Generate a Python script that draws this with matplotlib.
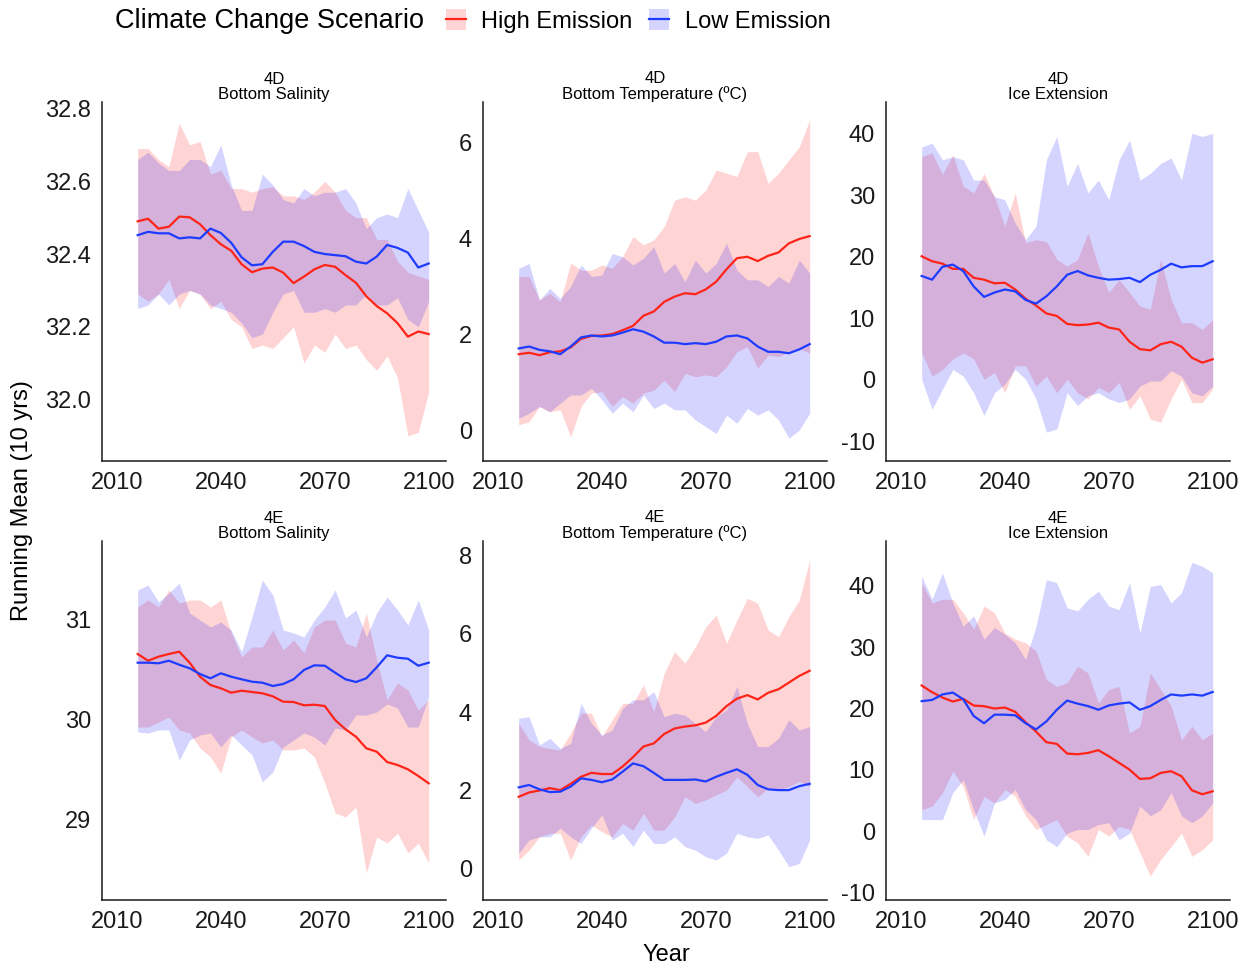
import numpy as np
import matplotlib
matplotlib.use("Agg")
import matplotlib.pyplot as plt
from matplotlib.patches import Patch
from matplotlib.lines import Line2D
from matplotlib.ticker import FormatStrFormatter

plt.rcParams['font.family'] = ['Liberation Sans', 'DejaVu Sans']
plt.rcParams['axes.unicode_minus'] = False

# years of the running mean (every 3rd year)
years = list(range(2016, 2101, 3))

# 4D - Bottom Salinity
sal4d_high = [32.49, 32.497, 32.47, 32.475, 32.503, 32.501, 32.482, 32.452, 32.427, 32.409, 32.372, 32.35, 32.36, 32.363, 32.349,
              32.32, 32.338, 32.358, 32.37, 32.365, 32.342, 32.321, 32.284, 32.257, 32.237, 32.21, 32.173, 32.187, 32.18]
sal4d_high_lo = [32.29, 32.27, 32.29, 32.33, 32.25, 32.30, 32.29, 32.25, 32.27, 32.22, 32.20, 32.14, 32.15, 32.14, 32.17,
                 32.20, 32.10, 32.15, 32.13, 32.18, 32.14, 32.15, 32.11, 32.08, 32.12, 32.06, 31.90, 31.91, 32.02]
sal4d_high_hi = [32.69, 32.69, 32.66, 32.64, 32.76, 32.70, 32.71, 32.62, 32.63, 32.58, 32.58, 32.57, 32.58, 32.585, 32.56,
                 32.56, 32.55, 32.57, 32.60, 32.57, 32.52, 32.50, 32.50, 32.44, 32.44, 32.38, 32.35, 32.34, 32.33]
sal4d_low = [32.452, 32.461, 32.457, 32.457, 32.443, 32.446, 32.443, 32.47, 32.458, 32.431, 32.391, 32.369, 32.372, 32.406, 32.434,
             32.434, 32.422, 32.406, 32.4, 32.397, 32.394, 32.379, 32.374, 32.393, 32.425, 32.417, 32.404, 32.363, 32.374]
sal4d_low_lo = [32.25, 32.26, 32.29, 32.26, 32.29, 32.30, 32.29, 32.26, 32.25, 32.24, 32.21, 32.17, 32.18, 32.24, 32.29,
                32.30, 32.24, 32.24, 32.25, 32.24, 32.26, 32.26, 32.29, 32.26, 32.26, 32.28, 32.22, 32.20, 32.27]
sal4d_low_hi = [32.66, 32.68, 32.65, 32.63, 32.63, 32.66, 32.66, 32.64, 32.70, 32.59, 32.52, 32.52, 32.62, 32.59, 32.55,
                32.54, 32.58, 32.56, 32.57, 32.57, 32.58, 32.54, 32.47, 32.50, 32.51, 32.50, 32.58, 32.52, 32.46]

# 4D - Bottom Temperature
tmp4d_high = [1.60, 1.63, 1.58, 1.64, 1.66, 1.74, 1.92, 1.98, 1.99, 2.02, 2.10, 2.19, 2.40, 2.49, 2.69,
              2.80, 2.87, 2.85, 2.95, 3.11, 3.37, 3.60, 3.63, 3.54, 3.65, 3.72, 3.91, 4.00, 4.06]
tmp4d_high_lo = [0.13, 0.19, 0.51, 0.40, 0.44, -0.12, 0.51, 0.79, 0.82, 0.51, 0.72, 0.58, 0.79, 0.85, 1.06,
                 0.82, 1.20, 1.13, 1.17, 1.13, 1.34, 1.65, 1.76, 1.31, 1.58, 1.55, 1.65, 1.72, 1.62]
tmp4d_high_hi = [3.22, 3.22, 2.73, 2.87, 2.69, 3.50, 3.35, 3.35, 3.46, 3.39, 3.63, 4.05, 3.88, 3.98, 4.26,
                 4.81, 4.88, 4.81, 5.02, 5.44, 5.37, 5.30, 5.82, 5.82, 5.16, 5.37, 5.65, 5.92, 6.48]
tmp4d_low = [1.72, 1.76, 1.69, 1.66, 1.60, 1.76, 1.95, 1.99, 1.97, 1.99, 2.05, 2.12, 2.07, 1.97, 1.84,
             1.84, 1.81, 1.83, 1.81, 1.86, 1.97, 1.99, 1.93, 1.76, 1.65, 1.65, 1.62, 1.70, 1.81]
tmp4d_low_lo = [0.26, 0.37, 0.51, 0.40, 0.58, 0.75, 0.75, 0.89, 0.65, 0.37, 0.58, 0.40, 0.75, 0.47, 0.58,
                0.44, 0.44, 0.23, 0.09, -0.05, 0.33, 0.16, 0.47, 0.33, 0.44, 0.23, -0.15, 0.02, 0.37]
tmp4d_low_hi = [3.39, 3.49, 2.73, 2.97, 2.76, 3.01, 3.46, 3.22, 3.25, 3.70, 3.63, 3.46, 3.60, 3.84, 3.29,
                3.49, 3.11, 3.56, 3.29, 3.49, 3.91, 3.35, 3.15, 3.15, 3.01, 3.22, 3.08, 3.56, 3.29]

# 4D - Ice Extension
ice4d_high = [20.1, 19.3, 18.9, 18.05, 18.05, 16.6, 16.3, 15.7, 15.8, 14.7, 13.2, 12.1, 10.8, 10.4, 9.1,
              8.9, 9.0, 9.3, 8.5, 8.2, 6.2, 5.0, 4.8, 5.8, 6.2, 5.4, 3.6, 2.8, 3.35]
ice4d_high_lo = [4.4, 0.6, 1.7, 3.4, 4.4, 3.4, 0.1, 1.2, -2.1, 2.3, 2.3, -1.0, 0.6, -2.1, 0.1,
                 -2.1, -3.1, -1.2, -2.1, -0.4, -4.8, -2.6, -6.4, -6.9, -3.1, 0.1, -3.7, -3.7, -1.5]
ice4d_high_hi = [36.3, 36.9, 33.4, 36.6, 31.5, 30.4, 33.6, 29.8, 25.0, 30.4, 22.3, 22.8, 22.5, 19.6, 18.5,
                 19.6, 23.9, 18.5, 14.2, 16.3, 14.2, 12.0, 11.5, 19.6, 13.1, 9.3, 9.3, 8.2, 9.8]
ice4d_low = [16.9, 16.3, 18.4, 18.75, 17.7, 15.2, 13.5, 14.2, 14.7, 14.4, 13.0, 12.4, 13.6, 15.2, 17.1,
             17.7, 17.0, 16.6, 16.3, 16.4, 16.6, 15.9, 17.1, 17.9, 18.9, 18.3, 18.5, 18.5, 19.3]
ice4d_low_lo = [0.1, -4.8, -1.5, 1.7, 0.6, -2.1, -5.8, -2.1, -0.7, 1.7, 0.1, -3.1, -8.5, -8.0, -2.1,
                -4.2, -2.6, -2.1, -3.1, -3.7, -3.1, -1.0, -0.2, -0.2, 1.5, 0.6, -2.1, -2.6, -1.0]
ice4d_low_hi = [37.9, 38.5, 35.8, 36.3, 35.8, 32.5, 32.5, 29.8, 29.3, 25.5, 22.8, 25.0, 35.8, 39.6, 31.5,
                35.2, 30.4, 32.5, 29.3, 35.8, 39.0, 32.5, 33.6, 35.2, 36.1, 32.5, 40.1, 39.6, 40.1]

# 4E - Bottom Salinity
sal4e_high = [30.66, 30.593, 30.633, 30.66, 30.683, 30.573, 30.433, 30.35, 30.317, 30.273, 30.293, 30.28, 30.267, 30.237, 30.183,
              30.18, 30.147, 30.153, 30.14, 30.0, 29.907, 29.833, 29.717, 29.683, 29.58, 29.55, 29.507, 29.44, 29.367]
sal4e_high_lo = [29.93, 29.93, 29.98, 30.03, 29.90, 29.87, 29.72, 29.63, 29.47, 29.83, 29.90, 29.83, 29.77, 29.80, 29.70,
                 29.70, 29.72, 29.63, 29.37, 29.07, 29.03, 29.13, 28.47, 28.83, 28.77, 28.87, 28.67, 28.77, 28.57]
sal4e_high_hi = [31.13, 31.20, 31.13, 31.30, 31.17, 31.20, 31.20, 31.13, 31.20, 30.87, 30.63, 30.73, 30.73, 30.90, 30.70,
                 30.80, 30.67, 30.93, 31.00, 31.00, 30.77, 30.73, 31.07, 30.60, 30.20, 30.37, 30.30, 30.10, 30.20]
sal4e_low = [30.573, 30.573, 30.567, 30.593, 30.553, 30.517, 30.46, 30.417, 30.467, 30.433, 30.407, 30.383, 30.373, 30.34, 30.36,
             30.407, 30.5, 30.547, 30.543, 30.473, 30.407, 30.38, 30.417, 30.527, 30.647, 30.623, 30.613, 30.543, 30.573]
sal4e_low_lo = [29.88, 29.87, 29.90, 29.90, 29.60, 29.80, 29.85, 29.87, 29.73, 29.85, 29.75, 29.65, 29.38, 29.48, 29.73,
                29.80, 29.87, 29.83, 29.75, 29.92, 29.90, 30.05, 30.05, 30.08, 30.16, 30.12, 29.93, 29.93, 30.23]
sal4e_low_hi = [31.30, 31.35, 31.18, 31.27, 31.37, 31.07, 31.00, 30.93, 30.98, 30.90, 30.68, 31.03, 31.40, 31.25, 30.90,
                30.87, 30.83, 31.00, 31.13, 31.30, 31.02, 31.10, 30.83, 31.07, 31.23, 31.10, 30.95, 31.20, 30.90]

# 4E - Bottom Temperature
tmp4e_high = [1.84, 1.95, 2.00, 2.06, 2.01, 2.17, 2.35, 2.45, 2.42, 2.42, 2.61, 2.85, 3.12, 3.20, 3.44,
              3.58, 3.63, 3.66, 3.73, 3.90, 4.15, 4.34, 4.43, 4.32, 4.49, 4.58, 4.75, 4.92, 5.05]
tmp4e_high_lo = [0.23, 0.48, 0.82, 0.91, 0.91, 0.23, 0.82, 1.12, 0.95, 0.82, 1.16, 0.99, 1.42, 0.99, 0.99,
                 1.33, 1.84, 1.67, 1.76, 1.89, 2.01, 2.35, 2.10, 1.84, 2.06, 2.01, 2.10, 2.23, 2.10]
tmp4e_high_hi = [3.71, 3.29, 3.12, 3.07, 3.03, 3.46, 3.97, 3.97, 3.37, 3.80, 4.22, 4.22, 4.69, 4.01, 4.99,
                 5.54, 5.24, 5.66, 6.17, 6.47, 5.75, 6.34, 6.90, 6.77, 6.09, 5.92, 6.43, 6.85, 7.87]
tmp4e_low = [2.08, 2.14, 2.03, 1.96, 1.97, 2.10, 2.31, 2.27, 2.21, 2.28, 2.48, 2.69, 2.62, 2.45, 2.27,
             2.27, 2.27, 2.28, 2.23, 2.35, 2.45, 2.54, 2.40, 2.14, 2.03, 2.01, 2.01, 2.11, 2.17]
tmp4e_low_lo = [0.40, 0.74, 0.82, 0.82, 1.04, 0.82, 0.65, 1.04, 1.38, 0.74, 0.91, 0.57, 0.99, 0.65, 0.65,
                0.82, 0.57, 0.48, 0.31, 0.23, 0.40, 0.91, 0.82, 0.78, 0.87, 0.48, 0.06, 0.14, 0.74]
tmp4e_low_hi = [3.84, 3.88, 3.16, 3.33, 3.07, 3.20, 4.22, 3.71, 3.41, 3.54, 4.09, 4.31, 4.31, 4.52, 3.88,
                3.97, 3.92, 3.71, 3.50, 3.88, 4.05, 4.65, 3.71, 3.12, 3.12, 3.33, 3.80, 3.54, 3.63]

# 4E - Ice Extension
ice4e_high = [23.75, 22.66, 21.79, 21.14, 21.58, 20.49, 20.38, 20.0, 20.16, 19.46, 17.77, 16.25, 14.51, 14.24, 12.66,
              12.55, 12.77, 13.21, 12.23, 11.14, 10.05, 8.53, 8.64, 9.51, 9.78, 8.97, 6.68, 6.03, 6.52]
ice4e_high_lo = [3.5, 4.1, 6.3, 9.8, 7.3, 1.9, 5.7, 4.6, 6.8, 5.7, 2.5, 0.3, 1.1, 1.9, -0.8,
                 -1.9, -4.1, 0.3, -0.8, 0.8, 0.3, -3.5, -7.3, -4.6, -2.5, -0.3, -4.1, -3.0, -1.4]
ice4e_high_hi = [40.5, 37.2, 37.8, 37.8, 35.6, 32.9, 36.7, 35.6, 32.3, 31.3, 30.7, 29.4, 24.7, 23.6, 24.2,
                 26.9, 25.8, 20.9, 23.1, 23.6, 16.0, 17.1, 25.8, 23.1, 20.4, 14.9, 17.1, 14.9, 16.0]
ice4e_low = [21.2, 21.4, 22.3, 22.6, 21.5, 18.8, 17.6, 19.0, 19.0, 18.9, 17.6, 16.6, 17.9, 19.8, 21.3,
             20.8, 20.4, 19.8, 20.5, 20.8, 21.0, 19.8, 20.4, 21.4, 22.3, 22.1, 22.3, 22.1, 22.7]
ice4e_low_lo = [1.9, 1.9, 1.9, 6.3, 8.4, 3.5, -0.8, 4.6, 5.2, 6.8, 3.5, 1.9, -1.4, -2.5, -0.3,
                0.3, 0.3, 1.1, 1.4, -1.4, -0.3, 4.1, 2.5, 3.5, 6.3, 2.5, 1.4, 2.5, 4.6]
ice4e_low_hi = [41.6, 37.8, 42.1, 37.2, 33.4, 35.1, 31.3, 33.2, 32.1, 30.7, 28.0, 33.4, 41.0, 40.5, 36.4,
                35.9, 37.8, 39.1, 36.7, 36.1, 40.5, 32.3, 39.9, 40.2, 37.2, 38.9, 43.8, 43.2, 42.1]

titles = ["4D\nBottom Salinity", "4D\nBottom Temperature (ºC)", "4D\nIce Extension",
          "4E\nBottom Salinity", "4E\nBottom Temperature (ºC)", "4E\nIce Extension"]
x_ticks = [2010, 2040, 2070, 2100]

RED = "#FF2418"
BLUE = "#1E3CFF"

panels = [
    (sal4d_high, sal4d_high_lo, sal4d_high_hi, sal4d_low, sal4d_low_lo, sal4d_low_hi,
     (31.831, 32.818), [32.0, 32.2, 32.4, 32.6, 32.8], "%.1f"),
    (tmp4d_high, tmp4d_high_lo, tmp4d_high_hi, tmp4d_low, tmp4d_low_lo, tmp4d_low_hi,
     (-0.625, 6.854), [0, 2, 4, 6], "%d"),
    (ice4d_high, ice4d_high_lo, ice4d_high_hi, ice4d_low, ice4d_low_lo, ice4d_low_hi,
     (-13.2, 45.2), [-10, 0, 10, 20, 30, 40], "%d"),
    (sal4e_high, sal4e_high_lo, sal4e_high_hi, sal4e_low, sal4e_low_lo, sal4e_low_hi,
     (28.2, 31.79), [29, 30, 31], "%d"),
    (tmp4e_high, tmp4e_high_lo, tmp4e_high_hi, tmp4e_low, tmp4e_low_lo, tmp4e_low_hi,
     (-0.79, 8.357), [0, 2, 4, 6, 8], "%d"),
    (ice4e_high, ice4e_high_lo, ice4e_high_hi, ice4e_low, ice4e_low_lo, ice4e_low_hi,
     (-11.2, 47.3), [-10, 0, 10, 20, 30, 40], "%d"),
]

W, H = 1253, 968
fig = plt.figure(figsize=(W / 100, H / 100), dpi=100)

col_left = [102, 483, 886]
row_top = [102, 541]
pw, ph = 344, 359

for i, (hm, hlo, hhi, lm, llo, lhi, ylim, yt, fmt) in enumerate(panels):
    r, c = divmod(i, 3)
    ax = fig.add_axes([col_left[c] / W, 1 - (row_top[r] + ph) / H, pw / W, ph / H])
    ax.fill_between(years, hlo, hhi, color="red", alpha=0.17, lw=0)
    ax.fill_between(years, llo, lhi, color="blue", alpha=0.17, lw=0)
    ax.plot(years, hm, color=RED, lw=1.6)
    ax.plot(years, lm, color=BLUE, lw=1.6)
    ax.set_xlim(2005.7, 2105.0)
    ax.set_ylim(*ylim)
    ax.set_xticks(x_ticks)
    ax.set_yticks(yt)
    ax.yaxis.set_major_formatter(FormatStrFormatter(fmt))
    for s in ["top", "right"]:
        ax.spines[s].set_visible(False)
    for s in ["left", "bottom"]:
        ax.spines[s].set_linewidth(1.1)
        ax.spines[s].set_color("#1a1a1a")
    ax.tick_params(length=0, pad=8, labelsize=17, colors="#1a1a1a")
    ax.set_title(titles[i], fontsize=12, linespacing=1.0, pad=1)

fig.text(666 / W, 1 - 955 / H, "Year", ha="center", va="center", fontsize=17)
fig.text(22 / W, 1 - 501 / H, "Running Mean (10 yrs)", ha="center", va="center",
         rotation=90, fontsize=17)

# legend across the top
fig.text(115 / W, 1 - 21 / H, "Climate Change Scenario", ha="left", va="center", fontsize=19.5)
handles = [(Patch(facecolor="red", alpha=0.17, lw=0), Line2D([], [], color=RED, lw=1.6)),
           (Patch(facecolor="blue", alpha=0.17, lw=0), Line2D([], [], color=BLUE, lw=1.6))]
fig.legend(handles, ["High Emission", "Low Emission"], loc="center left",
           bbox_to_anchor=(446 / W, 1 - 21 / H), ncol=2, frameon=False, fontsize=17,
           handlelength=0.85, handleheight=1.0, handletextpad=0.65, columnspacing=0.7,
           borderaxespad=0, borderpad=0)

fig.savefig("out.png", dpi=100)
